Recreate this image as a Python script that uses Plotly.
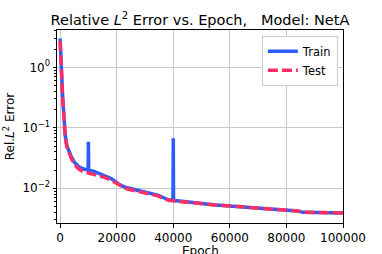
import plotly.graph_objects as go

epochs_train = [0, 300, 600, 900, 1200, 1500, 1800, 2400, 3000, 4000, 5000, 6500, 8000, 9900, 10000, 10100,
                12000, 14000, 16000, 18000, 19500, 21000, 23000, 26000, 29000, 32000, 34500, 36500, 38500, 39900,
                40000, 40100, 43000, 46000, 50000, 55000, 60000, 65000, 70000, 75000, 78000, 81000, 84000, 86000,
                90000, 95000, 100000]
train = [3.0, 1.2, 0.5, 0.32, 0.2, 0.13, 0.075, 0.05, 0.042, 0.033, 0.027, 0.023, 0.021, 0.020, 0.059, 0.020,
         0.019, 0.0175, 0.0162, 0.0145, 0.0130, 0.0115, 0.0104, 0.0095, 0.0087, 0.0082, 0.0077, 0.0069, 0.0064, 0.0064,
         0.067, 0.0063, 0.0061, 0.0058, 0.0056, 0.0053, 0.0051, 0.0049, 0.0048, 0.0046, 0.0045, 0.0044, 0.0042, 0.0040,
         0.0040, 0.0039, 0.0039]

epochs_test = [0, 300, 600, 900, 1200, 1500, 1800, 2400, 3000, 4000, 5000, 6500, 8000, 10000,
               12000, 14000, 16000, 18000, 19500, 21000, 23000, 26000, 29000, 32000, 34500, 36500, 38500, 40000,
               43000, 46000, 50000, 55000, 60000, 65000, 70000, 75000, 78000, 81000, 84000, 86000,
               90000, 95000, 100000]
test = [2.7, 1.1, 0.48, 0.3, 0.19, 0.12, 0.07, 0.048, 0.04, 0.031, 0.025, 0.021, 0.019, 0.018,
        0.0172, 0.0160, 0.0150, 0.0136, 0.0124, 0.0110, 0.0100, 0.0092, 0.0085, 0.0080, 0.0075, 0.0068, 0.0063, 0.0062,
        0.0060, 0.0057, 0.0055, 0.0053, 0.0051, 0.0049, 0.0047, 0.0046, 0.0045, 0.0044, 0.0042, 0.0040,
        0.0040, 0.0039, 0.0039]

x_ticks = [0, 20000, 40000, 60000, 80000, 100000]
y_ticks = [1, 0.1, 0.01]
y_tick_labels = ["10<sup>0</sup>", "10<sup>\u22121</sup>", "10<sup>\u22122</sup>"]

BLUE = "#2b5cff"
PINK = "#ff2e63"
FONT = "DejaVu Sans"

fig = go.Figure()
fig.add_trace(go.Scatter(x=epochs_train, y=train, mode="lines", name="Train",
                         line=dict(color=BLUE, width=3.5)))
fig.add_trace(go.Scatter(x=epochs_test, y=test, mode="lines", name="Test",
                         line=dict(color=PINK, width=3.5, dash="10px,4px")))

axis_common = dict(showline=True, linecolor="black", linewidth=1, mirror=True,
                   ticks="outside", ticklen=3.5, tickcolor="black",
                   showgrid=True, gridcolor="#c8c8c8", gridwidth=1, zeroline=False,
                   automargin=False,
                   tickfont=dict(family=FONT, size=12, color="black"))

fig.update_layout(
    width=382, height=254,
    margin=dict(l=57, r=39, t=30, b=31),
    paper_bgcolor="white", plot_bgcolor="white",
    font=dict(family=FONT, size=12, color="black"),
    title=dict(text="Relative <i>L</i><sup>2</sup> Error vs. Epoch,   Model: NetA",
               x=0.5, xref="paper", xanchor="center", y=0.9, yref="container", yanchor="bottom",
               font=dict(family=FONT, size=14.5, color="black")),
    showlegend=True,
    legend=dict(x=0.982, y=0.97, xanchor="right", yanchor="top",
                bgcolor="white", bordercolor="#cccccc", borderwidth=1,
                font=dict(family=FONT, size=11.5, color="black"),
                tracegroupgap=0, itemwidth=30),
    annotations=[dict(text="Epoch", x=0.5, xref="paper", y=0, yref="paper",
                      xanchor="center", yanchor="top", yshift=-19, showarrow=False,
                      font=dict(family=FONT, size=12, color="black"))],
)

fig.update_xaxes(range=[-1100, 100000], tickvals=x_ticks, ticktext=[str(v) for v in x_ticks],
                 **axis_common)
fig.update_yaxes(type="log", range=[-2.574, 0.617], tickvals=y_ticks, ticktext=y_tick_labels,
                 title=dict(text="Rel.<i>L</i><sup>2</sup> Error", font=dict(family=FONT, size=12), standoff=5),
                 minor=dict(ticks="outside", ticklen=2, tickcolor="black", showgrid=False,
                            tickvals=[0.003, 0.004, 0.005, 0.006, 0.007, 0.008, 0.009,
                                      0.02, 0.03, 0.04, 0.05, 0.06, 0.07, 0.08, 0.09,
                                      0.2, 0.3, 0.4, 0.5, 0.6, 0.7, 0.8, 0.9, 2, 3, 4]),
                 **axis_common)

fig.write_html("out.html", config={"displayModeBar": False},
               post_script="document.body.style.margin='0';document.body.style.overflow='hidden';")
